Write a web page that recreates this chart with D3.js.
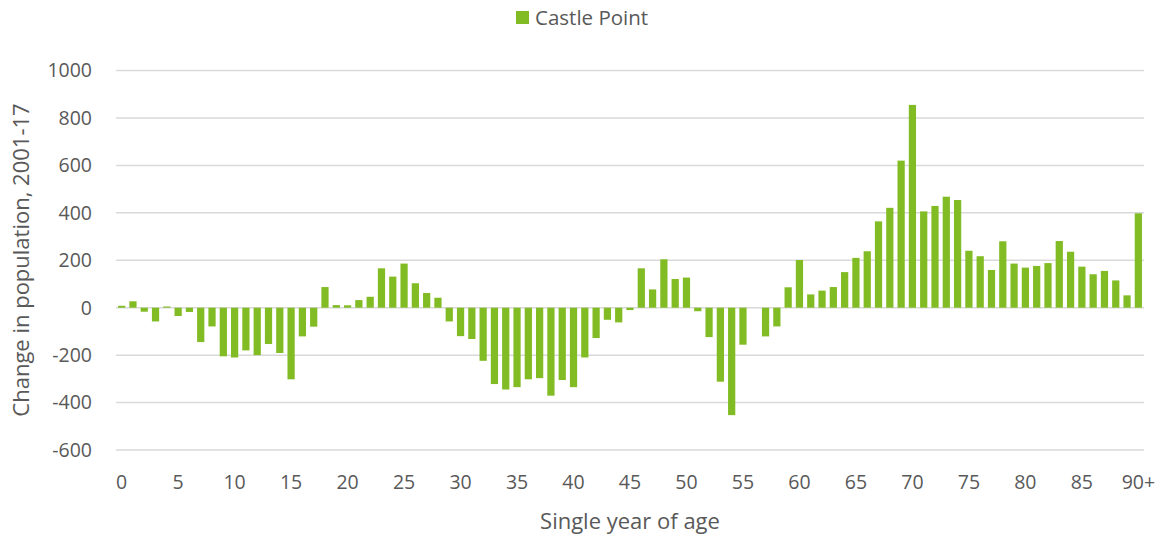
<!DOCTYPE html>
<html>
<head>
<meta charset="utf-8">
<script src="https://cdn.jsdelivr.net/npm/d3@7"></script>
<style>
  body { margin: 0; background: #fff; }
  text { font-family: "Open Sans", sans-serif; fill: #595959; }
</style>
</head>
<body>
<div id="container"></div>
<script>
const seriesName = "Castle Point"

// single year of age, 0..89 and 90+
const ages = d3.range(90).map(String).concat(["90+"])

const change = [
    8, 27, -17, -58, 5, -35, -18, -145, -79, -205,
    -210, -180, -200, -153, -191, -302, -121, -80, 87, 11,
    10, 32, 46, 166, 131, 186, 103, 62, 42, -58,
    -120, -132, -224, -322, -345, -335, -302, -297, -371, -305,
    -335, -210, -128, -51, -62, -10, 166, 77, 204, 121,
    127, -15, -124, -312, -453, -156, 0, -121, -79, 86,
    201, 56, 72, 87, 150, 210, 238, 364, 421, 620,
    855, 406, 429, 468, 454, 240, 217, 159, 280, 186,
    169, 176, 188, 281, 236, 173, 141, 155, 115, 52,
    398
]

const xTickLabels = ["0", "5", "10", "15", "20", "25", "30", "35", "40", "45",
    "50", "55", "60", "65", "70", "75", "80", "85", "90+"]
const yTicks = [-600, -400, -200, 0, 200, 400, 600, 800, 1000]

const width = 1162
const height = 536
const margin = { top: 70.5, right: 18, bottom: 86, left: 116 }
const barColor = "#82bc24"

const svg = d3.select("#container")
    .append("svg").attr("width", width).attr("height", height)

const x = d3.scaleBand()
    .domain(ages)
    .range([margin.left, width - margin.right])
    .paddingInner(0.36)
    .paddingOuter(0.18)

const y = d3.scaleLinear()
    .domain([-600, 1000])
    .range([height - margin.bottom, margin.top])

// gridlines
svg.append("g")
    .selectAll("line")
    .data(yTicks)
    .join("line")
    .attr("x1", margin.left)
    .attr("x2", width - margin.right)
    .attr("y1", d => y(d))
    .attr("y2", d => y(d))
    .attr("stroke", "#d9d9d9")
    .attr("stroke-width", 1.5)

// y tick labels
svg.append("g")
    .selectAll("text")
    .data(yTicks)
    .join("text")
    .attr("x", 92)
    .attr("y", d => y(d))
    .attr("dy", "0.35em")
    .attr("text-anchor", "end")
    .style("font-size", "19.5px")
    .text(d => d)

// bars
svg.append("g")
    .selectAll("rect")
    .data(change)
    .join("rect")
    .attr("x", (d, i) => x(ages[i]))
    .attr("width", x.bandwidth())
    .attr("y", d => y(Math.max(0, d)))
    .attr("height", d => Math.abs(y(d) - y(0)))
    .attr("fill", barColor)

// x tick labels
svg.append("g")
    .selectAll("text")
    .data(xTickLabels)
    .join("text")
    .attr("x", d => x(d) + x.bandwidth() / 2)
    .attr("y", 489)
    .attr("text-anchor", "middle")
    .style("font-size", "19.5px")
    .text(d => d)

// axis titles
svg.append("text")
    .attr("x", 630)
    .attr("y", 529)
    .attr("text-anchor", "middle")
    .style("font-size", "22px")
    .text("Single year of age")

svg.append("text")
    .attr("transform", "translate(29,260) rotate(-90)")
    .attr("text-anchor", "middle")
    .style("font-size", "22px")
    .text("Change in population, 2001-17")

// legend
svg.append("rect")
    .attr("x", 516).attr("y", 11)
    .attr("width", 13).attr("height", 13)
    .attr("fill", barColor)
svg.append("text")
    .attr("x", 535).attr("y", 25)
    .style("font-size", "20.5px")
    .text(seriesName)
</script>
</body>
</html>
